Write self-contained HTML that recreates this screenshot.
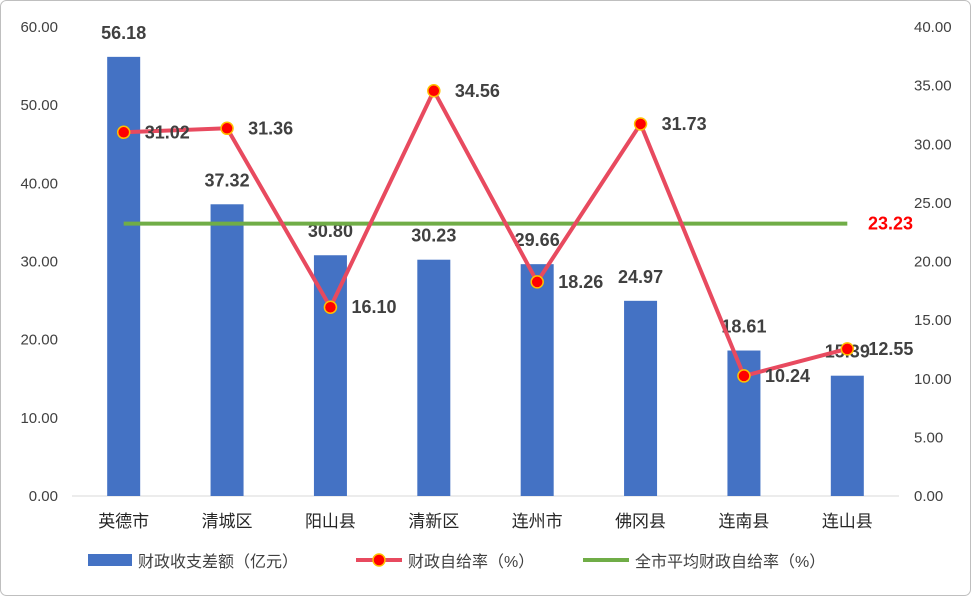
<!DOCTYPE html>
<html><head><meta charset="utf-8">
<style>
html,body{margin:0;padding:0;background:#fff;}
svg{display:block;}
text{font-family:"Liberation Sans","Noto Sans CJK SC",sans-serif;}
</style></head>
<body>
<svg id="chart" width="971" height="596" xmlns="http://www.w3.org/2000/svg">
<rect x="0.5" y="0.5" width="970" height="595" rx="6" fill="#fff" stroke="#bfbfbf"/>
<g id="g"></g>
</svg>
<script>
const categories=["英德市","清城区","阳山县","清新区","连州市","佛冈县","连南县","连山县"];
const gapValues=[56.18,37.32,30.80,30.23,29.66,24.97,18.61,15.39];
const rateValues=[31.02,31.36,16.10,34.56,18.26,31.73,10.24,12.55];
const avgRate=23.23;
const leftTicks=[0,10,20,30,40,50,60];
const rightTicks=[0,5,10,15,20,25,30,35,40];

const NS="http://www.w3.org/2000/svg";
const g=document.getElementById('g');
const x0=72,x1=899,yBase=496,yTop=27;
const bandW=(x1-x0)/categories.length;
const xc=i=>x0+bandW*(i+0.5);
const yL=v=>yBase-(v/60)*(yBase-yTop);
const yR=v=>yBase-(v/40)*(yBase-yTop);
function el(tag,attrs,txt){const e=document.createElementNS(NS,tag);for(const k in attrs)e.setAttribute(k,attrs[k]);if(txt!==undefined)e.textContent=txt;g.appendChild(e);return e;}

leftTicks.forEach(t=>{
  const e=el('text',{x:58,y:yL(t)+5,'text-anchor':'end','font-size':15,fill:'#404040'},t.toFixed(2));
  
  
});
rightTicks.forEach(t=>{
  const e=el('text',{x:914,y:yR(t)+5,'font-size':15,fill:'#404040'},t.toFixed(2));
  
  
});
const ax=el('line',{x1:x0,x2:x1,y1:yBase,y2:yBase,stroke:'#d9d9d9','stroke-width':1});



categories.forEach((c,i)=>{
  const e=el('text',{x:xc(i),y:527,'text-anchor':'middle','font-size':17,fill:'#262626','font-family':'"Noto Serif CJK SC",serif'},c);
  
  
});

gapValues.forEach((v,i)=>{
  const b=el('rect',{x:xc(i)-16.5,y:yL(v),width:33,height:yBase-yL(v),fill:'#4472c4'});
  
  
  const t=el('text',{x:xc(i),y:yL(v)-18,'text-anchor':'middle','font-size':18,'font-weight':'bold',fill:'#404040'},v.toFixed(2));
  
  
});

const avg=el('line',{x1:xc(0),x2:xc(7),y1:yR(avgRate),y2:yR(avgRate),stroke:'#70ad47','stroke-width':4});


const avgT=el('text',{x:868,y:yR(avgRate)+6,'font-size':18,'font-weight':'bold',fill:'#ff0000'},avgRate.toFixed(2));



const pts=rateValues.map((v,i)=>xc(i)+','+yR(v)).join(' ');
const pl=el('polyline',{points:pts,fill:'none',stroke:'#e84a5f','stroke-width':4,'stroke-linejoin':'round'});


rateValues.forEach((v,i)=>{
  const c=el('circle',{cx:xc(i),cy:yR(v),r:6,fill:'#ff0000',stroke:'#ffc000','stroke-width':1.5});
  
  
  const t=el('text',{x:xc(i)+21,y:yR(v)+6,'font-size':18,'font-weight':'bold',fill:'#404040'},v.toFixed(2));
  
  
});

// legend
const lg=[];
let r=el('rect',{x:88,y:554,width:44,height:12,fill:'#4472c4'});


let t=el('text',{x:138,y:567,'font-size':16,fill:'#404040'},'财政收支差额（亿元）');


let l=el('line',{x1:356,x2:402,y1:560,y2:560,stroke:'#e84a5f','stroke-width':4});


let c=el('circle',{cx:379,cy:560,r:6,fill:'#ff0000',stroke:'#ffc000','stroke-width':1.5});


t=el('text',{x:408,y:567,'font-size':16,fill:'#404040'},'财政自给率（%）');


l=el('line',{x1:583,x2:629,y1:560,y2:560,stroke:'#70ad47','stroke-width':4});


t=el('text',{x:635,y:567,'font-size':16,fill:'#404040'},'全市平均财政自给率（%）');


</script>
</body></html>
